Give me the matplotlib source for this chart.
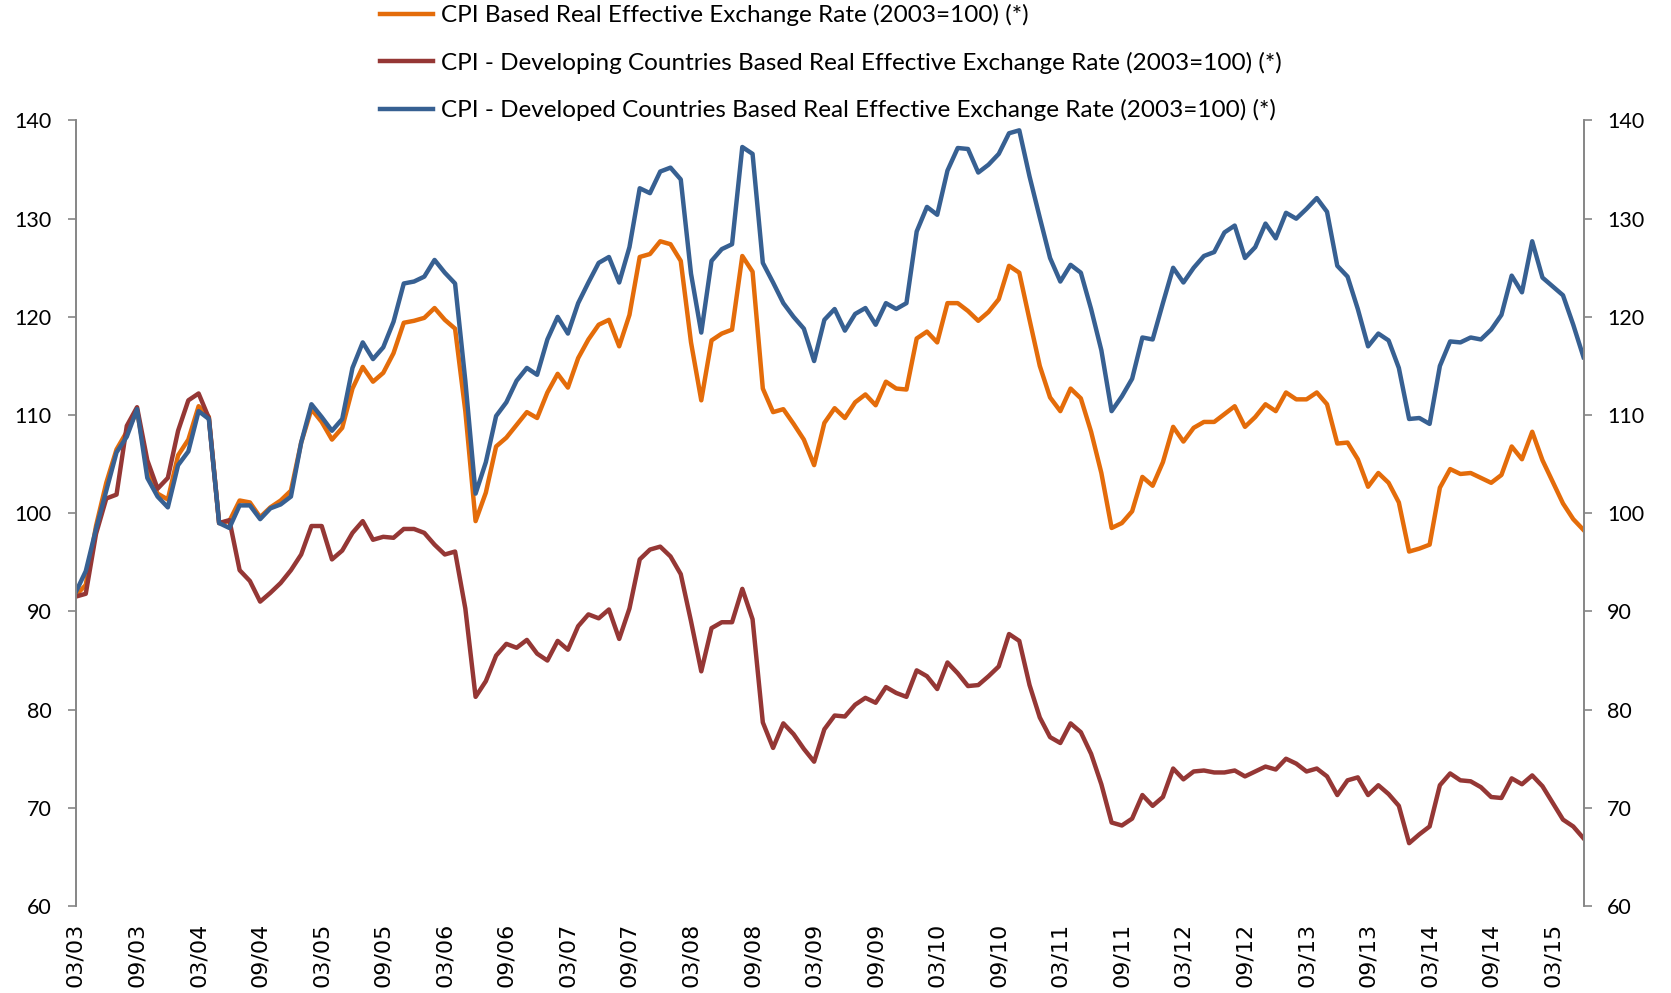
import numpy as np
import matplotlib
matplotlib.use("Agg")
import matplotlib.pyplot as plt

# monthly data, 03/2003 .. 06/2015
cpi_reer = [91.6, 92.7, 98.7, 103.1, 106.5, 108.3, 110.4, 104.6, 102.0, 101.4,
            105.9, 107.5, 110.9, 109.8, 99.0, 99.2, 101.3, 101.1, 99.6, 100.6,
            101.3, 102.3, 107.2, 110.6, 109.3, 107.5, 108.7, 112.7, 114.9, 113.4,
            114.3, 116.3, 119.4, 119.6, 119.9, 120.9, 119.7, 118.8, 110.4, 99.2,
            102.1, 106.8, 107.7, 109.0, 110.3, 109.7, 112.3, 114.2, 112.8, 115.8,
            117.7, 119.2, 119.7, 117.0, 120.2, 126.1, 126.4, 127.7, 127.4, 125.7,
            117.4, 111.5, 117.6, 118.3, 118.7, 126.2, 124.6, 112.7, 110.3, 110.6,
            109.1, 107.5, 104.9, 109.2, 110.7, 109.7, 111.3, 112.1, 111.0, 113.4,
            112.7, 112.6, 117.8, 118.5, 117.4, 121.4, 121.4, 120.6, 119.6, 120.5,
            121.8, 125.2, 124.5, 119.7, 115.0, 111.8, 110.4, 112.7, 111.7, 108.3,
            104.1, 98.5, 99.0, 100.2, 103.7, 102.8, 105.2, 108.8, 107.3, 108.7,
            109.3, 109.3, 110.1, 110.9, 108.8, 109.8, 111.1, 110.4, 112.3, 111.6,
            111.6, 112.3, 111.1, 107.1, 107.2, 105.5, 102.7, 104.1, 103.1, 101.1,
            96.1, 96.4, 96.8, 102.6, 104.5, 104.0, 104.1, 103.6, 103.1, 103.9,
            106.8, 105.5, 108.3, 105.4, 103.2, 101.0, 99.4, 98.3]

developing = [91.5, 91.8, 97.9, 101.5, 101.9, 108.9, 110.8, 105.4, 102.5, 103.6,
              108.4, 111.5, 112.2, 109.7, 99.0, 99.3, 94.2, 93.1, 91.0, 91.9,
              92.9, 94.2, 95.8, 98.7, 98.7, 95.3, 96.2, 98.0, 99.2, 97.3,
              97.6, 97.5, 98.4, 98.4, 98.0, 96.8, 95.8, 96.1, 90.3, 81.3,
              82.9, 85.5, 86.7, 86.3, 87.1, 85.7, 85.0, 87.0, 86.1, 88.5,
              89.7, 89.3, 90.2, 87.2, 90.3, 95.3, 96.3, 96.6, 95.6, 93.8,
              89.0, 83.9, 88.3, 88.9, 88.9, 92.3, 89.2, 78.7, 76.1, 78.6,
              77.5, 76.0, 74.7, 78.0, 79.4, 79.3, 80.5, 81.2, 80.7, 82.3,
              81.7, 81.3, 84.0, 83.4, 82.1, 84.8, 83.7, 82.4, 82.5, 83.4,
              84.4, 87.7, 87.0, 82.5, 79.2, 77.2, 76.6, 78.6, 77.7, 75.5,
              72.4, 68.5, 68.2, 68.9, 71.3, 70.2, 71.1, 74.0, 72.9, 73.7,
              73.8, 73.6, 73.6, 73.8, 73.2, 73.7, 74.2, 73.9, 75.0, 74.5,
              73.7, 74.0, 73.2, 71.3, 72.8, 73.1, 71.3, 72.3, 71.4, 70.2,
              66.4, 67.3, 68.1, 72.3, 73.5, 72.8, 72.7, 72.1, 71.1, 71.0,
              73.0, 72.4, 73.3, 72.2, 70.5, 68.8, 68.1, 66.9]

developed = [91.9, 94.1, 98.4, 102.3, 106.2, 107.8, 110.6, 103.6, 101.7, 100.6,
             104.9, 106.3, 110.4, 109.6, 99.0, 98.5, 100.8, 100.8, 99.4, 100.5,
             100.9, 101.7, 107.2, 111.1, 109.8, 108.4, 109.6, 114.8, 117.4, 115.7,
             116.9, 119.5, 123.4, 123.6, 124.1, 125.8, 124.5, 123.4, 113.5, 102.0,
             105.2, 109.9, 111.3, 113.5, 114.8, 114.1, 117.7, 120.0, 118.3, 121.4,
             123.5, 125.5, 126.1, 123.5, 127.1, 133.1, 132.6, 134.8, 135.2, 134.0,
             124.4, 118.4, 125.7, 126.9, 127.4, 137.3, 136.6, 125.5, 123.5, 121.4,
             120.0, 118.8, 115.5, 119.7, 120.8, 118.6, 120.3, 120.9, 119.2, 121.4,
             120.8, 121.4, 128.7, 131.2, 130.4, 134.9, 137.2, 137.1, 134.7, 135.5,
             136.6, 138.7, 139.0, 134.3, 130.1, 126.0, 123.6, 125.3, 124.5, 120.8,
             116.6, 110.4, 111.9, 113.7, 117.9, 117.7, 121.4, 125.0, 123.5, 125.0,
             126.2, 126.6, 128.6, 129.3, 126.0, 127.1, 129.5, 128.0, 130.6, 130.0,
             131.0, 132.1, 130.7, 125.2, 124.1, 120.8, 117.0, 118.3, 117.6, 114.8,
             109.6, 109.7, 109.1, 115.0, 117.5, 117.4, 117.9, 117.7, 118.7, 120.2,
             124.2, 122.5, 127.7, 124.0, 123.1, 122.2, 119.2, 115.9]

tick_labels = ["03/03", "09/03", "03/04", "09/04", "03/05", "09/05", "03/06",
               "09/06", "03/07", "09/07", "03/08", "09/08", "03/09", "09/09",
               "03/10", "09/10", "03/11", "09/11", "03/12", "09/12", "03/13",
               "09/13", "03/14", "09/14", "03/15"]

series_names = ["CPI Based Real Effective Exchange Rate (2003=100) (*)",
                "CPI - Developing Countries Based Real Effective Exchange Rate (2003=100) (*)",
                "CPI - Developed Countries Based Real Effective Exchange Rate (2003=100) (*)"]

colors = ["#E46C0A", "#953735", "#376092"]
axis_grey = "#868686"
yfont = ["Lato", "DejaVu Sans"]

x = np.arange(len(cpi_reer))

fig = plt.figure(figsize=(16.71, 9.93), dpi=100)
ax = fig.add_axes([75.5 / 1671, 1 - 906 / 993, (1583.5 - 75.5) / 1671, (906 - 120.5) / 993])

lines = []
for vals, c in zip([cpi_reer, developing, developed], colors):
    ln, = ax.plot(x, vals, color=c, lw=3.2, solid_joinstyle="round")
    lines.append(ln)

ax.set_xlim(0, len(x) - 1)
ax.set_ylim(60, 140)
ax.set_yticks(np.arange(60, 141, 10))
ax.set_xticks(np.arange(0, len(x), 6)[:len(tick_labels)])
ax.set_xticklabels(tick_labels, rotation=90, fontsize=16, family="DejaVu Sans",
                   va="top", ha="center")
ax.tick_params(axis="x", length=0, pad=12)
ax.tick_params(axis="y", length=6, width=1.2, color=axis_grey, pad=11)
for lab in ax.get_yticklabels():
    lab.set_family(yfont)
    lab.set_fontsize(15.5)

ax2 = ax.twinx()
ax2.set_ylim(60, 140)
ax2.set_yticks(np.arange(60, 141, 10))
ax2.tick_params(axis="y", length=6, width=1.2, color=axis_grey, pad=11)
for lab in ax2.get_yticklabels():
    lab.set_family(yfont)
    lab.set_fontsize(15.5)

for a in (ax, ax2):
    a.spines["top"].set_visible(False)
    a.spines["bottom"].set_visible(False)
    a.spines["left"].set_color(axis_grey)
    a.spines["right"].set_color(axis_grey)
    a.spines["left"].set_linewidth(1.2)
    a.spines["right"].set_linewidth(1.2)

fig.legend(lines, series_names, loc="upper left",
           bbox_to_anchor=(380 / 1671, 1 - 4 / 993), frameon=False,
           prop={"family": yfont, "size": 17.5}, handlelength=2.2,
           handletextpad=0.3, labelspacing=1.05, borderpad=0, borderaxespad=0)

fig.savefig("out.png", dpi=100)
